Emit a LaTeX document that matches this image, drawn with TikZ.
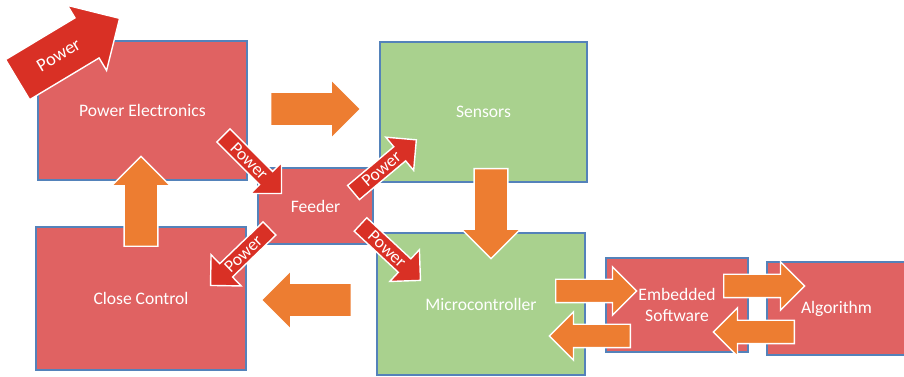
\documentclass[tikz,border=0pt]{standalone}
\usepackage{fontspec}
\setmainfont{Carlito}
\usepackage{tikz}
\usetikzlibrary{shapes.arrows,positioning,calc}
\usepackage{xcolor}

\definecolor{boxred}{RGB}{224,98,98}
\definecolor{boxgreen}{RGB}{169,209,142}
\definecolor{boxline}{RGB}{84,130,186}
\definecolor{floworange}{RGB}{237,125,49}
\definecolor{powerred}{RGB}{217,48,37}

\begin{document}
\begin{tikzpicture}[x=0.02cm,y=-0.02cm,
    font=\fontsize{10}{12}\selectfont,
    block/.style={draw=boxline,line width=0.6pt,text=white,inner sep=0pt,align=center},
    redblock/.style={block,fill=boxred},
    greenblock/.style={block,fill=boxgreen},
    % shaft width comes from inner ysep, head width from minimum width
    flow/.style={single arrow,fill=floworange,draw=white,line width=0.8pt,inner xsep=0pt,anchor=tail},
    bigflow/.style={flow,inner ysep=0.32cm,minimum height=1.8cm,minimum width=1.18cm},
    smallflow/.style={flow,inner ysep=0.22cm,minimum height=1.62cm,minimum width=0.92cm},
    power/.style={single arrow,fill=powerred,draw=white,line width=0.8pt,text=white,inner xsep=1pt,anchor=tail},
    smallpower/.style={power,inner ysep=1.6pt,minimum height=1.64cm,minimum width=0.68cm}]
  \useasboundingbox (0,0) rectangle (904,377);

  % blocks
  \node[redblock,minimum width=4.18cm,minimum height=2.78cm] (pe) at (142.5,110.5) {Power Electronics};
  \node[greenblock,minimum width=4.14cm,minimum height=2.80cm] (sens) at (483.5,112) {Sensors};
  \node[redblock,minimum width=2.30cm,minimum height=1.52cm] (feed) at (315.5,206) {Feeder};
  \node[redblock,minimum width=4.20cm,minimum height=2.86cm] (cc) at (141,298.5) {Close Control};
  \node[greenblock,minimum width=4.16cm,minimum height=2.84cm] (mcu) at (481,304) {Microcontroller};
  \node[redblock,minimum width=2.84cm,minimum height=1.88cm] (emb) at (677,305) {Embedded\\Software};
  \node[redblock,minimum width=2.78cm,minimum height=1.86cm] (alg) at (836.5,308.5) {Algorithm};

  % flow arrows
  \node[bigflow] (f1) at (270,109) {};
  \node[bigflow,rotate=90] (f2) at (141,247) {};
  \node[bigflow,rotate=-90] (f3) at (491,168) {};
  \node[bigflow,rotate=180] (f4) at (352,300) {};
  \node[smallflow] (f5) at (555,291) {};
  \node[smallflow,rotate=180] (f6) at (631,336) {};
  \node[smallflow] (f7) at (723,286) {};
  \node[smallflow,rotate=180] (f8) at (795,332) {};

  % power arrows
  \node[power,font=\fontsize{10.5}{12}\selectfont,inner ysep=7.6pt,minimum height=2.38cm,
        minimum width=1.52cm,rotate=31] (pin) at (17,80) {Power};
  \node[smallpower,rotate=-45] (p1) at (223,135) {Power};
  \node[smallpower,rotate=40] (p2) at (353,193) {Power};
  \node[smallpower,rotate=44,shape border rotate=180] (p3) at (270,228) {Power};
  \node[smallpower,rotate=-43] (p4) at (360,224) {Power};
\end{tikzpicture}
\end{document}
